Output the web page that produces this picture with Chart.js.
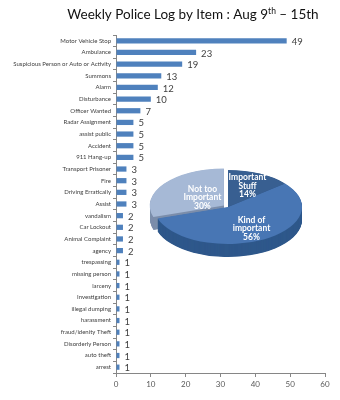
<!DOCTYPE html>
<html>
<head>
<meta charset="utf-8">
<script src="https://cdn.jsdelivr.net/npm/chart.js@4.4.1/dist/chart.umd.min.js"></script>
<style>
    body { margin: 0; background: #fff; }
    #wrap { position: relative; width: 340px; height: 400px; }
    #pieBox { position: absolute; left: 128px; top: 107px; width: 200px; height: 200px; }
</style>
</head>
<body>
<div id="wrap">
    <canvas id="barChart" width="340" height="400"></canvas>
    <div id="pieBox"><canvas id="pieChart" width="200" height="200"></canvas></div>
</div>
<script>
const categories = [
    "Motor Vehicle Stop", "Ambulance", "Suspicious Person or Auto or Activity", "Summons",
    "Alarm", "Disturbance", "Officer Wanted", "Radar Assignment", "assist public",
    "Accident", "911 Hang-up", "Transport Prisoner", "Fire", "Driving Erratically",
    "Assist", "vandalism", "Car Lockout", "Animal Complaint", "agency", "trespassing",
    "missing person", "larceny", "Investigation", "illegal dumping", "harassment",
    "fraud/idenity Theft", "Disorderly Person", "auto theft", "arrest",
];
const counts = [49, 23, 19, 13, 12, 10, 7, 5, 5, 5, 5, 3, 3, 3, 3, 2, 2, 2, 2, 1, 1, 1, 1, 1, 1, 1, 1, 1, 1];

const pieLabels = [["Important", "Stuff"], ["Kind of", "important"], ["Not too", "Important"]];
const pieValues = [14, 56, 30];

const titleParts = ["Weekly Police Log by Item : Aug 9", "th", " \u2013 15th"];

const FONT = "Lato, 'Liberation Sans', sans-serif";

// title drawn by hand so the "th" can sit raised
const titlePlugin = {
    id: "titleText",
    afterDraw(chart) {
        const ctx = chart.ctx;
        const sizes = [13.5, 8.5, 13.5];
        const rise = [0, -5, 0];
        ctx.save();
        let total = 0;
        titleParts.forEach((t, i) => {
            ctx.font = sizes[i] + "px " + FONT;
            total += ctx.measureText(t).width;
        });
        let x = 193 - total / 2;
        ctx.fillStyle = "#111";
        ctx.textBaseline = "alphabetic";
        titleParts.forEach((t, i) => {
            ctx.font = sizes[i] + "px " + FONT;
            ctx.fillText(t, x, 19 + rise[i]);
            x += ctx.measureText(t).width;
        });
        ctx.restore();
    },
};

const valueLabels = {
    id: "valueLabels",
    afterDatasetsDraw(chart) {
        const ctx = chart.ctx;
        const meta = chart.getDatasetMeta(0);
        ctx.save();
        ctx.font = "9.5px " + FONT;
        ctx.fillStyle = "#404040";
        ctx.textBaseline = "middle";
        meta.data.forEach((bar, i) => ctx.fillText(counts[i], bar.x + 5, bar.y + 1));
        ctx.restore();
    },
};

new Chart(document.getElementById("barChart").getContext("2d"), {
    type: "bar",
    data: {
        labels: categories,
        datasets: [
            {
                data: counts,
                backgroundColor: "#4f81bd",
                barPercentage: 0.45,
                categoryPercentage: 1,
            },
        ],
    },
    options: {
        indexAxis: "y",
        responsive: false,
        animation: false,
        layout: { padding: { top: 35, right: 15, bottom: 0, left: 0 } },
        scales: {
            x: {
                min: 0,
                max: 60,
                ticks: { stepSize: 10, color: "#595959", font: { size: 8, family: FONT }, padding: 3 },
                grid: { drawOnChartArea: false, tickLength: 4, color: "#868686" },
                border: { color: "#868686" },
                afterFit(scale) { scale.height = 27; },
            },
            y: {
                ticks: { autoSkip: false, color: "#404040", font: { size: 6, family: FONT }, padding: 2 },
                grid: { drawOnChartArea: false, tickLength: 3, color: "#868686" },
                border: { color: "#868686" },
                afterFit(scale) { scale.width = 116; },
            },
        },
        plugins: { legend: { display: false }, tooltip: { enabled: false } },
    },
    plugins: [titlePlugin, valueLabels],
});

// fake 3-D pie: squash the canvas and stack darker copies under the slices
const TILT = 0.5;
const DEPTH = 13;
const pieTops = ["#385f91", "#4876b4", "#a6b9d6"];
const pieSides = ["#284770", "#2f588b", "#7c8eab"];
const labelDistance = [0.62, 0.66, 0.36];

function arcGeom(arc) {
    const p = arc.getProps(["x", "y", "startAngle", "endAngle", "outerRadius"]);
    const off = (arc.options.offset || 0) / 4;
    const mid = (p.startAngle + p.endAngle) / 2;
    return { ...p, mid, ox: Math.cos(mid) * off, oy: Math.sin(mid) * off };
}

const pie3d = {
    id: "pie3d",
    beforeDatasetsDraw(chart) {
        const ctx = chart.ctx;
        const meta = chart.getDatasetMeta(0);
        const cy = meta.data[0].y;
        ctx.save();
        ctx.translate(0, cy);
        ctx.scale(1, TILT);
        ctx.translate(0, -cy);
        for (let d = DEPTH / TILT; d > 0; d--) {
            meta.data.forEach((arc, i) => {
                const g = arcGeom(arc);
                const x = g.x + g.ox;
                const y = g.y + g.oy + d;
                ctx.beginPath();
                ctx.moveTo(x, y);
                ctx.arc(x, y, g.outerRadius, g.startAngle, g.endAngle);
                ctx.closePath();
                ctx.fillStyle = pieSides[i];
                ctx.fill();
            });
        }
    },
    afterDatasetsDraw(chart) {
        const ctx = chart.ctx;
        ctx.restore();
        const meta = chart.getDatasetMeta(0);
        ctx.save();
        ctx.fillStyle = "#fff";
        ctx.font = "bold 8.5px " + FONT;
        ctx.textAlign = "center";
        ctx.textBaseline = "middle";
        meta.data.forEach((arc, i) => {
            const g = arcGeom(arc);
            const r = g.outerRadius * labelDistance[i];
            const x = g.x + g.ox + Math.cos(g.mid) * r;
            const y = g.y + (g.oy + Math.sin(g.mid) * r) * TILT;
            const lines = pieLabels[i].concat(pieValues[i] + "%");
            lines.forEach((t, k) => ctx.fillText(t, x, y + (k - 1) * 8.5));
        });
        ctx.restore();
    },
};

new Chart(document.getElementById("pieChart").getContext("2d"), {
    type: "pie",
    data: {
        labels: pieLabels.map((l) => l.join(" ")),
        datasets: [
            {
                data: pieValues,
                backgroundColor: pieTops,
                borderWidth: 0,
                offset: [0, 0, 20],
            },
        ],
    },
    options: {
        responsive: false,
        animation: false,
        radius: 74,
        layout: { padding: 0 },
        plugins: { legend: { display: false }, tooltip: { enabled: false } },
    },
    plugins: [pie3d],
});
</script>
</body>
</html>
